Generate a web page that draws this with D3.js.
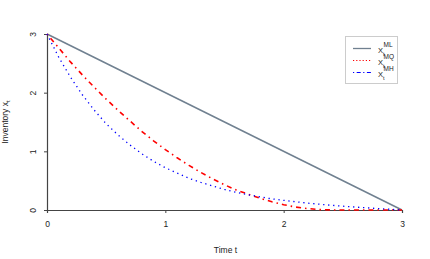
<!DOCTYPE html>
<html>
<head>
<meta charset="utf-8">
<script src="https://cdn.jsdelivr.net/npm/d3@7"></script>
<style>
  body { margin: 0; background: #fff; }
  svg text { font-family: "Liberation Sans", Arial, sans-serif; fill: #222; }
</style>
</head>
<body>
<svg id="chart"></svg>
<script>
// time grid and the three inventory paths
var timeGrid = [0, 0.1, 0.2, 0.3, 0.4, 0.5, 0.6, 0.7, 0.8, 0.9, 1.0, 1.1, 1.2, 1.3, 1.4, 1.5,
                1.6, 1.7, 1.8, 1.9, 2.0, 2.1, 2.2, 2.3, 2.4, 2.5, 2.6, 2.7, 2.8, 2.9, 3.0];
var mlTimes = [0, 3];
var mlValues = [3, 0];
var mqValues = [3.00, 2.76, 2.52, 2.30, 2.09, 1.89, 1.70, 1.52, 1.34, 1.18, 1.03, 0.89, 0.76, 0.64, 0.53, 0.43,
                0.34, 0.27, 0.20, 0.14, 0.09, 0.05, 0.025, 0.007, 0.001, 0, 0, 0, 0, 0, 0];
var mhValues = [3.00, 2.60, 2.26, 1.96, 1.70, 1.47, 1.28, 1.11, 0.96, 0.83, 0.72, 0.63, 0.54, 0.47, 0.41, 0.35,
                0.30, 0.26, 0.225, 0.19, 0.165, 0.14, 0.118, 0.099, 0.081, 0.065, 0.051, 0.037, 0.024, 0.012, 0];
var xTicks = [0, 1, 2, 3];
var yTicks = [0, 1, 2, 3];
var legendSupers = ["ML", "MQ", "MH"];

var width = 430, height = 259;
var margin = {top: 34, right: 28, bottom: 49, left: 47};
var chartWidth = width - margin.left - margin.right;
var chartHeight = height - margin.top - margin.bottom;

var x = d3.scaleLinear().domain([0, 3]).range([0, chartWidth]);
var y = d3.scaleLinear().domain([0, 3]).range([chartHeight, 0]);

var svg = d3.select('#chart')
            .attr("width", width)
            .attr("height", height);

var chart = svg.append("g")
               .attr("transform", "translate(" + margin.left + "," + margin.top + ")");

// axes (R style: only left and bottom)
var xAxis = chart.append("g")
                 .attr("transform", "translate(0," + chartHeight + ")")
                 .call(d3.axisBottom(x).tickValues(xTicks).tickSize(3).tickPadding(8).tickFormat(d3.format("d")));

var yAxis = chart.append("g")
                 .call(d3.axisLeft(y).tickValues(yTicks).tickSize(3).tickPadding(8).tickFormat(d3.format("d")));

[xAxis, yAxis].forEach(function(ax) {
  ax.select(".domain").attr("stroke", "#444").attr("stroke-width", 1.2);
  ax.selectAll(".tick line").attr("stroke", "#444");
  ax.selectAll(".tick text").attr("font-size", 8.5).attr("fill", "#222")
    .attr("font-family", "Liberation Sans, Arial, sans-serif");
});

// y tick labels are rotated like in R (las = 0)
yAxis.selectAll(".tick text")
     .attr("transform", "rotate(-90)")
     .attr("text-anchor", "middle")
     .attr("x", 0)
     .attr("y", -11)
     .attr("dy", "0");

chart.append("text")
     .attr("x", chartWidth / 2 + 1)
     .attr("y", chartHeight + 43)
     .attr("text-anchor", "middle")
     .attr("font-size", 8.5)
     .text("Time  t");

var yLab = chart.append("text")
     .attr("transform", "translate(" + (-39) + "," + (chartHeight / 2) + ") rotate(-90)")
     .attr("text-anchor", "middle")
     .attr("font-size", 8.5);
yLab.append("tspan").text("Inventory  x");
yLab.append("tspan").attr("font-size", 6).attr("dy", 2).text("t");

// lines
var line = d3.line()
             .x(function(d) { return x(d[0]); })
             .y(function(d) { return y(d[1]); });

var mlData = mlTimes.map(function(t, i) { return [t, mlValues[i]]; });
var mqData = timeGrid.map(function(t, i) { return [t, mqValues[i]]; });
var mhData = timeGrid.map(function(t, i) { return [t, mhValues[i]]; });

chart.append("path").datum(mlData)
     .attr("d", line).attr("fill", "none")
     .attr("stroke", "#708090").attr("stroke-width", 1.5);

chart.append("path").datum(mqData)
     .attr("d", line).attr("fill", "none")
     .attr("stroke", "#ff0000").attr("stroke-width", 1.6)
     .attr("stroke-dasharray", "1.5,4,5,4");

chart.append("path").datum(mhData)
     .attr("d", line).attr("fill", "none")
     .attr("stroke", "#0000ff").attr("stroke-width", 1.3)
     .attr("stroke-dasharray", "1.3,3.7");

// legend (the original pairs red with dots and blue with dot-dash here)
var legendStyles = [
  {color: "#708090", dash: null, w: 1.3},
  {color: "#ff0000", dash: "1.2,2", w: 1},
  {color: "#0000ff", dash: "1.2,2.5,4,2.5", w: 1}
];

var legend = svg.append("g").attr("transform", "translate(345,36)");
legend.append("rect")
      .attr("x", 0.5).attr("y", 0.5)
      .attr("width", 52).attr("height", 47)
      .attr("fill", "#fff").attr("stroke", "#ccc").attr("stroke-width", 1);

legendSupers.forEach(function(s, i) {
  var ly = 12.5 + i * 12;
  var st = legendStyles[i];
  legend.append("line")
        .attr("x1", 8).attr("x2", 26)
        .attr("y1", ly).attr("y2", ly)
        .attr("stroke", st.color).attr("stroke-width", st.w)
        .attr("stroke-dasharray", st.dash);
  legend.append("text").attr("x", 33).attr("y", ly + 4).attr("font-size", 7.5).text("X");
  legend.append("text").attr("x", 38).attr("y", ly + 7.5).attr("font-size", 5.5).text("t");
  legend.append("text").attr("x", 38.5).attr("y", ly - 1.5).attr("font-size", 6.5).text(s);
});
</script>
</body>
</html>
